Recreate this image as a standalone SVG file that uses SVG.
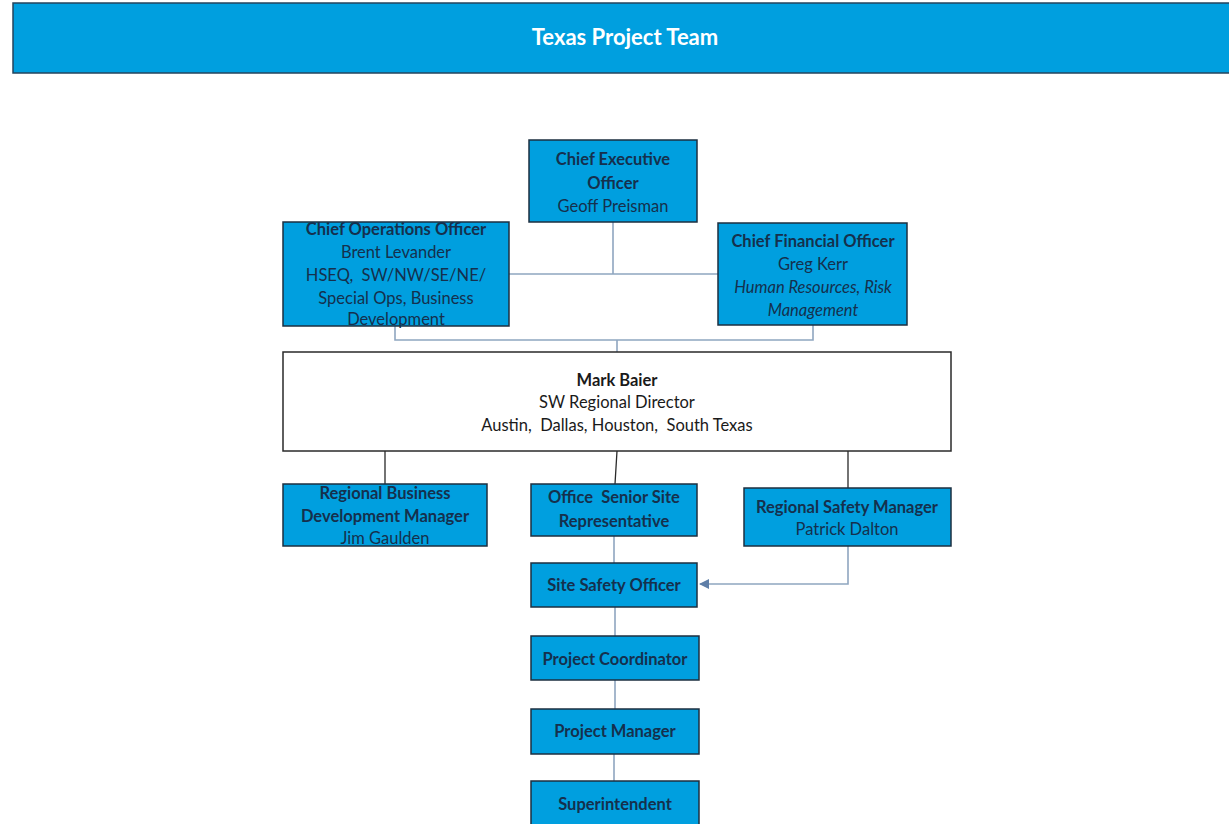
<svg xmlns="http://www.w3.org/2000/svg" width="1229" height="824" viewBox="0 0 1229 824">
<defs>
<style>
.box{fill:#009fdf;stroke:#1c2f40;stroke-width:1.5}
.wbox{fill:#ffffff;stroke:#2a2a2a;stroke-width:1.5}
text{font-family:Lato,"Open Sans","Liberation Sans",sans-serif;font-size:16.5px;fill:#15304d;text-anchor:middle}
.b{font-weight:bold}
.i{font-style:italic}
.k{fill:#1a1a1a}
.pre{white-space:pre}
.title{fill:#ffffff;font-weight:bold;font-size:22px}
.lc{stroke:#8fa6c0;stroke-width:1.6;fill:none}
.dc{stroke:#2a2a2a;stroke-width:1.3;fill:none}
</style>
<marker id="arr" markerWidth="10" markerHeight="10" refX="9" refY="5" orient="auto" markerUnits="userSpaceOnUse">
<path d="M0,0 L10,5 L0,10 Z" fill="#5f7fa8"/>
</marker>
</defs>
<rect width="1229" height="824" fill="#ffffff"/>
<g id="header">
<rect x="13" y="3" width="1222" height="70" class="box" style="stroke:#24445e"/>
<text x="625" y="45" class="title">Texas Project Team</text>
</g>
<g id="connectors">
<path class="lc" d="M613,222 V274 M509,274 H718"/>
<path class="lc" d="M395,326 V340 H813 V325 M617,340 V352"/>
<path class="dc" d="M385,451 V484 M617,451 L615,484 M848,451 V488"/>
<path class="lc" d="M614,536 V563 M615,607 V636 M615,680 V709 M614,754 V781"/>
<path class="lc" d="M848,546 V584 H700" marker-end="url(#arr)"/>
</g>
<g id="ceo">
<rect x="529" y="140" width="168" height="82" class="box"/>
<text x="613" y="165" class="b">Chief Executive</text>
<text x="613" y="189" class="b">Officer</text>
<text x="613" y="212">Geoff Preisman</text>
</g>
<g id="coo">
<rect x="283" y="222" width="226" height="104" class="box"/>
<text x="396" y="235" class="b">Chief Operations Officer</text>
<text x="396" y="258">Brent Levander</text>
<text x="396" y="281" class="pre">HSEQ,  SW/NW/SE/NE/</text>
<text x="396" y="304">Special Ops, Business</text>
<text x="396" y="325">Development</text>
</g>
<g id="cfo">
<rect x="718" y="223" width="189" height="102" class="box"/>
<text x="813" y="247" class="b">Chief Financial Officer</text>
<text x="813" y="270">Greg Kerr</text>
<text x="813" y="293" class="i">Human Resources, Risk</text>
<text x="813" y="316" class="i">Management</text>
</g>
<g id="director">
<rect x="283" y="352" width="668" height="99" class="wbox"/>
<text x="617" y="386" class="b k">Mark Baier</text>
<text x="617" y="408" class="k">SW Regional Director</text>
<text x="617" y="431" class="k pre">Austin,  Dallas, Houston,  South Texas</text>
</g>
<g id="rbdm">
<rect x="283" y="484" width="204" height="62" class="box"/>
<text x="385" y="499" class="b">Regional Business</text>
<text x="385" y="522" class="b">Development Manager</text>
<text x="385" y="544">Jim Gaulden</text>
</g>
<g id="ossr">
<rect x="531" y="484" width="166" height="52" class="box"/>
<text x="614" y="503" class="b pre">Office  Senior Site</text>
<text x="614" y="527" class="b">Representative</text>
</g>
<g id="rsm">
<rect x="744" y="488" width="207" height="58" class="box"/>
<text x="847" y="513" class="b">Regional Safety Manager</text>
<text x="847" y="535">Patrick Dalton</text>
</g>
<g id="sso">
<rect x="531" y="563" width="166" height="44" class="box"/>
<text x="614" y="591" class="b">Site Safety Officer</text>
</g>
<g id="pc">
<rect x="531" y="636" width="168" height="44" class="box"/>
<text x="615" y="665" class="b">Project Coordinator</text>
</g>
<g id="pm">
<rect x="531" y="709" width="168" height="45" class="box"/>
<text x="615" y="737" class="b">Project Manager</text>
</g>
<g id="super">
<rect x="531" y="781" width="168" height="45" class="box"/>
<text x="615" y="810" class="b">Superintendent</text>
</g>
</svg>
